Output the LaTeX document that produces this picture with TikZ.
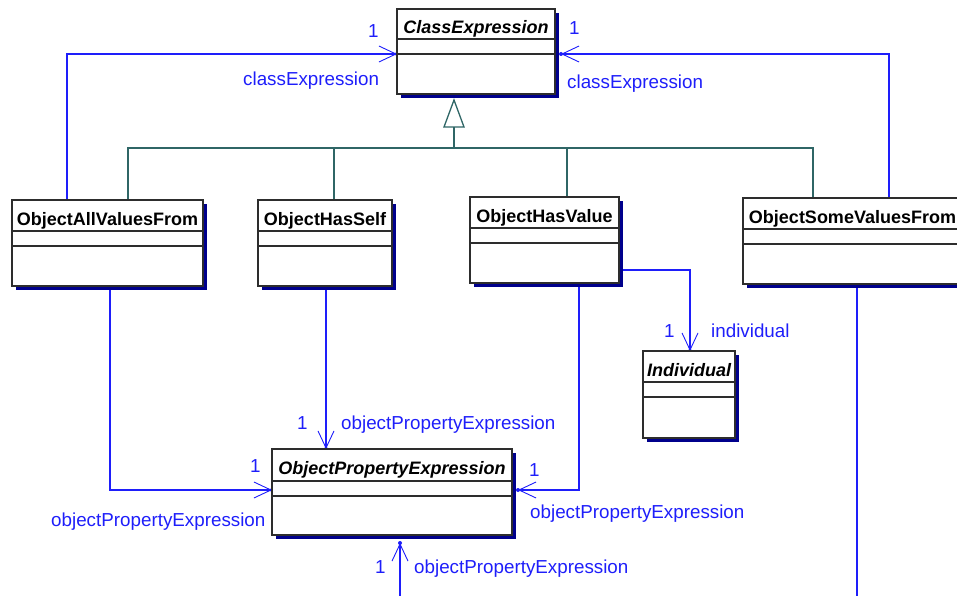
\documentclass[tikz,border=0pt]{standalone}
\usepackage{fontspec}
\setmainfont{Liberation Sans}
\usetikzlibrary{arrows.meta}
\definecolor{umlblue}{RGB}{30,30,250}
\definecolor{genc}{RGB}{47,102,102}
\definecolor{shadowc}{RGB}{0,0,140}
\definecolor{boxc}{RGB}{45,45,45}
\pgfdeclarelayer{bg}
\pgfsetlayers{bg,main}
% name, x1, y1, x2, y2, sep1, sep2, title
\newcommand\umlclass[8]{%
  \fill[shadowc] (#2+4,#3+4) rectangle (#4+4,#5+4);
  \node[classbox, anchor=north west, minimum width=#4-#2, minimum height=#5-#3] (#1) at (#2,#3) {};
  \draw[classline] (#2,#6) -- (#4,#6) (#2,#7) -- (#4,#7);
  \node[titletext, anchor=base] (#1-t) at ({(#2+#4)/2},#3+25) {#8};
}
\begin{document}
\begin{tikzpicture}[x=1pt,y=-1pt,
  classbox/.style={draw=boxc, line width=1.3pt, fill=white, inner sep=0pt, outer sep=0pt},
  classline/.style={draw=boxc, line width=1.3pt},
  titletext/.style={font=\bfseries\fontsize{18}{20}\selectfont, inner sep=0pt},
  assoc/.style={draw=umlblue, line width=1.3pt, -{Straight Barb[length=17pt,width=16pt,line width=0.9pt]}},
  plainassoc/.style={draw=umlblue, line width=1.3pt},
  tipdot/.style={circle, fill=umlblue, inner sep=0pt, minimum size=4pt},
  gen/.style={draw=genc, line width=1.3pt},
  lbl/.style={text=umlblue, font=\fontsize{18.8}{20}\selectfont, inner sep=0pt, anchor=base west}]
\useasboundingbox (0,0) rectangle (957,596);

% classes
\umlclass{ce}{397}{9}{555}{94}{39}{54}{\itshape ClassExpression}
\umlclass{avf}{12}{200}{203}{286}{231}{246}{ObjectAllValuesFrom}
\umlclass{hs}{258}{200}{392}{286}{231}{246}{ObjectHasSelf}
\umlclass{hv}{470}{197}{619}{283}{228}{243}{ObjectHasValue}
\umlclass{svf}{743}{198}{962}{284}{229}{244}{ObjectSomeValuesFrom}
\umlclass{ind}{643}{351}{735}{438}{382}{397}{\itshape Individual}
\umlclass{ope}{272}{449}{512}{535}{481}{496}{\itshape ObjectPropertyExpression}

% generalization
\coordinate (apex) at ([xshift=57pt,yshift=-6pt]ce.south west);
\draw[gen, fill=white] (apex) -- ++(-10,27) -- ++(20,0) -- cycle;
\coordinate (gbase) at ([yshift=-27pt]apex);
\coordinate (gbar) at ([yshift=-48pt]apex);
\begin{pgfonlayer}{bg}
\draw[gen] (gbase) -- (gbar);
\draw[gen] ([xshift=116pt]avf.north west) |- (gbar) -| ([xshift=70pt]svf.north west);
\draw[gen] ([xshift=76pt]hs.north west) -- ([xshift=76pt]hs.north west |- gbar);
\draw[gen] ([xshift=97pt]hv.north west) -- ([xshift=97pt]hv.north west |- gbar);

% associations
\draw[assoc] ([xshift=55pt]avf.north west) |- ([yshift=-45pt]ce.north west) node[tipdot]{};
\draw[assoc] ([xshift=146pt]svf.north west) |- ([xshift=6pt,yshift=-45pt]ce.north east) node[tipdot]{};
\draw[assoc] ([xshift=98pt]avf.south west) |- ([yshift=-41pt]ope.north west) node[tipdot]{};
\draw[assoc] ([xshift=68pt]hs.south west) -- ([xshift=54pt]ope.north west) node[tipdot]{};
\draw[assoc] ([xshift=109pt]hv.south west) |- ([xshift=6pt,yshift=-41pt]ope.north east) node[tipdot]{};
\draw[assoc] ([yshift=13pt]hv.south east) -| ([xshift=47pt]ind.north west) node[tipdot]{};
\coordinate (svfout) at (857,598);
\coordinate (opeout) at (400,598);
\draw[plainassoc] ([xshift=114pt]svf.south west) -- (svfout);
\draw[assoc] (opeout) -- ([xshift=128pt,yshift=-8pt]ope.south west) node[tipdot]{};
\end{pgfonlayer}

% labels
\node[lbl] (l1) at (368,38) {1};
\node[lbl] (l2) at (243,86) {classExpression};
\node[lbl] (l3) at (569,35) {1};
\node[lbl] (l4) at (567,89) {classExpression};
\node[lbl] (l5) at (297,429) {1};
\node[lbl] (l6) at (341,429) {objectPropertyExpression};
\node[lbl] (l7) at (250,472) {1};
\node[lbl] (l8) at (51,526) {objectPropertyExpression};
\node[lbl] (l9) at (529,476) {1};
\node[lbl] (l10) at (530,518) {objectPropertyExpression};
\node[lbl] (l11) at (375,573) {1};
\node[lbl] (l12) at (414,573) {objectPropertyExpression};
\node[lbl] (l13) at (664,337) {1};
\node[lbl] (l14) at (711,337) {individual};
\end{tikzpicture}
\end{document}
